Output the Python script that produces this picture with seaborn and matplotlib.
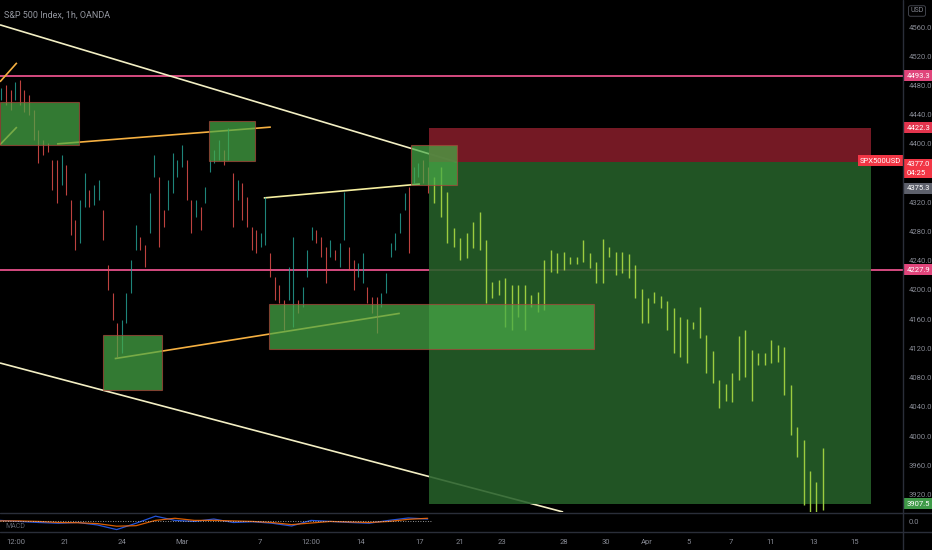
import numpy as np
import pandas as pd
import matplotlib
matplotlib.use("Agg")
import matplotlib.pyplot as plt
import matplotlib.transforms as mtransforms
from matplotlib.patches import Rectangle
from matplotlib.lines import Line2D
import seaborn as sns

sns.set_style("dark", {"axes.facecolor": "black", "figure.facecolor": "black"})
plt.rcParams['font.family'] = ['Roboto', 'DejaVu Sans']

# hourly candles before the trade (high / low, price)
hist_high = [4477, 4481, 4474, 4485, 4488, 4474, 4467, 4447, 4419, 4406, 4401, 4378, 4378, 4385, 4371,
             4323, 4296, 4323, 4360, 4337, 4344, 4351, 4310, 4234, 4196, 4155, 4159, 4196, 4241, 4289,
             4273, 4262, 4333, 4385, 4355, 4310, 4351, 4388, 4378, 4399, 4378, 4323, 4323, 4314, 4341,
             4378, 4392, 4406, 4392, 4422, 4360, 4351, 4347, 4327, 4286, 4282, 4278, 4327, 4251, 4218,
             4207, 4186, 4232, 4273, 4186, 4204, 4255, 4286, 4282, 4273, 4259, 4269, 4255, 4264, 4334,
             4259, 4241, 4237, 4251, 4204, 4190, 4190, 4196, 4223, 4264, 4278, 4306, 4333, 4341, 4369,
             4374, 4378, 4369]
hist_low = [4460, 4453, 4447, 4460, 4453, 4444, 4440, 4406, 4374, 4385, 4389, 4337, 4319, 4344, 4330,
            4275, 4255, 4264, 4314, 4314, 4316, 4323, 4269, 4200, 4159, 4108, 4114, 4155, 4196, 4255,
            4255, 4232, 4278, 4355, 4259, 4286, 4310, 4333, 4355, 4369, 4323, 4278, 4300, 4282, 4319,
            4362, 4374, 4378, 4371, 4378, 4286, 4323, 4296, 4286, 4255, 4251, 4259, 4262, 4218, 4186,
            4182, 4145, 4186, 4149, 4169, 4177, 4218, 4269, 4264, 4245, 4210, 4245, 4241, 4232, 4269,
            4227, 4200, 4218, 4210, 4182, 4169, 4141, 4177, 4196, 4245, 4255, 4278, 4310, 4251, 4347,
            4355, 4347, 4333]

# projected bars (high / low)
proj_high = [4355, 4368, 4334, 4285, 4271, 4278, 4293, 4307, 4269, 4211, 4214, 4216, 4207, 4207, 4207,
             4193, 4197, 4241, 4255, 4251, 4252, 4245, 4245, 4269, 4251, 4238, 4270, 4259, 4252, 4252,
             4249, 4234, 4201, 4189, 4197, 4192, 4185, 4175, 4163, 4160, 4156, 4177, 4138, 4116, 4077,
             4071, 4086, 4137, 4145, 4118, 4114, 4114, 4132, 4125, 4122, 4070, 4012, 3995, 3952, 3937,
             3984]
proj_low = [4319, 4300, 4264, 4259, 4241, 4244, 4258, 4255, 4182, 4189, 4193, 4149, 4145, 4163, 4145,
            4177, 4170, 4173, 4225, 4223, 4227, 4236, 4236, 4238, 4230, 4210, 4210, 4245, 4221, 4223,
            4216, 4189, 4155, 4155, 4182, 4175, 4145, 4114, 4108, 4100, 4147, 4134, 4086, 4073, 4038,
            4048, 4047, 4077, 4081, 4048, 4097, 4097, 4100, 4101, 4056, 4001, 3971, 3905, 3895, 3895,
            3899]

# trade levels
entry_price = 4375.3
stop_price = 4422.3
target_price = 3907.5
last_price = 4377.0
level_lines = [4493.3, 4227.9]

# zones: (start slot, end slot, low, high)
zones = [(0.0, 12.2, 4399, 4458), (32.3, 39.4, 4377, 4432), (15.9, 25.0, 4063, 4138),
         (41.5, 91.7, 4119, 4181), (63.4, 70.5, 4344, 4399)]
trade_span = (66.2, 134.4)

# trend lines: ((x0, x1), (p0, p1), colour)
trend_lines = [((0.0, 70.5), (4563, 4375), '#f3efc4'),
               ((0.0, 86.9), (4100, 3896), '#f3efc4'),
               ((8.8, 41.8), (4400, 4423), '#f5b041'),
               ((0.0, 2.6), (4485, 4511), '#f5b041'),
               ((0.0, 2.6), (4399, 4423), '#f5b041'),
               ((17.7, 61.7), (4106, 4168), '#f5b041'),
               ((40.7, 64.8), (4326, 4345), '#f7f0a0')]

# MACD pane
macd_vals = [1, 0, -1, -1.7, -1, -3.3, -7.7, -1.7, 5, 1, 0, 2.3, -1, -0.3, -1.7, -4.3, 1, 0, -1, -1.7, 1, 3.3, 2.3]
signal_vals = [0.5, 0.5, 0, -1, -1.2, -2, -4.5, -4, 1, 3, 1, 1, 0.5, 0, -1, -3, -1.5, 0, -0.5, -1, 0, 2, 3]

date_ticks = [2.5, 10.0, 18.8, 28.1, 40.1, 48.0, 55.6, 64.7, 71.0, 77.5, 87.0, 93.5, 99.8, 106.2,
              112.7, 119.0, 125.5, 131.9]
date_labels = ['12:00', '21', '24', 'Mar', '7', '12:00', '14', '17', '21', '23', '28', '30', 'Apr',
               '5', '7', '11', '13', '15']

grey = '#868993'
W, H = 932, 550
fig = plt.figure(figsize=(9.32, 5.5), dpi=100)
fig.patch.set_facecolor('black')
ax = fig.add_axes([0, 1 - 512 / H, 903 / W, 512 / H])
mx = fig.add_axes([0, 1 - 532 / H, 903 / W, 19 / H])
for a in (ax, mx):
    a.set_facecolor('black')
    for s in a.spines.values():
        s.set_visible(False)
    a.grid(False)

ax.set_xlim(0, 903 / 6.48)
ax.set_ylim(3896, 4597)

# level lines
for p in level_lines:
    ax.axhline(p, color='#e6508a', lw=1.3, zorder=1)

# trend lines
for xs, ps, c in trend_lines:
    ax.plot(xs, ps, color=c, lw=1.2, zorder=1.5, solid_capstyle='butt')

# historical candles
hx = np.linspace(0.2, 66.0, len(hist_high))
mid = (np.array(hist_high) + np.array(hist_low)) / 2
up = np.r_[True, mid[1:] >= mid[:-1]]
cols = np.where(up, '#26a69a', '#ef5350')
ax.vlines(hx, hist_low, hist_high, colors=cols, lw=0.8, alpha=0.8, zorder=2)

# risk / reward boxes
x0, x1 = trade_span
ax.add_patch(Rectangle((x0, entry_price), x1 - x0, stop_price - entry_price,
                       fc='#7b1b27', ec='none', alpha=0.95, zorder=2.5))
ax.add_patch(Rectangle((x0, target_price), x1 - x0, entry_price - target_price,
                       fc='#26602a', ec='none', alpha=0.88, zorder=2.5))

# projected bars
px = 67 + np.arange(len(proj_high))
ax.vlines(px, proj_low, proj_high, colors='#9ccc3f', lw=1.0, zorder=3)

# zones
for a0, a1, lo, hi in zones:
    ax.add_patch(Rectangle((a0, lo), a1 - a0, hi - lo, fc='#48aa48', ec='#a8453a',
                           lw=0.8, alpha=0.72, zorder=4))

# right price scale (4360.0 sits under the last-price tag, as in the reference)
ticks = np.arange(3920, 4561, 40)
ax.yaxis.tick_right()
ax.set_yticks(ticks)
ax.set_yticklabels(['' if t == 4360 else f'{t:.1f}' for t in ticks])
ax.tick_params(axis='y', length=0, pad=4, labelsize=5.5, colors=grey)
ax.set_xticks([])

trans = mtransforms.blended_transform_factory(ax.transAxes, ax.transData)

def tag(price, text, color, fg='white'):
    ax.text(1.004, price, text, transform=trans, ha='left', va='center', fontsize=5.5, color=fg,
            linespacing=1.5, bbox=dict(boxstyle='square,pad=0.3', fc=color, ec='none'),
            clip_on=False, zorder=10)

tag(level_lines[0], f'{level_lines[0]:.1f}', '#e0457b')
tag(stop_price, f'{stop_price:.1f}', '#e2344d')
tag(entry_price - 36, f'{entry_price:.1f}', '#5d606b')
tag(last_price - 11, f'{last_price:.1f}\n04:25', '#f23645')
tag(level_lines[1], f'{level_lines[1]:.1f}', '#e0457b')
tag(target_price, f'{target_price:.1f}', '#3f9a48')
ax.text(0.998, last_price, 'SPX500USD', transform=trans, ha='right', va='center', fontsize=5.5,
        color='white', bbox=dict(boxstyle='square,pad=0.3', fc='#f23645', ec='none'), zorder=10)

ax.text(0.004, 0.98, 'S&P 500 Index, 1h, OANDA', transform=ax.transAxes, ha='left', va='top',
        fontsize=6.5, color='#9598a1')
fig.text(917 / W, 1 - 11 / H, 'USD', ha='center', va='center', fontsize=5, color=grey,
         bbox=dict(boxstyle='round,pad=0.25', fc='black', ec='#4a4d57', lw=0.6))

# MACD pane
mx.set_xlim(ax.get_xlim())
mx.set_ylim(-10, 8)
macd_df = pd.DataFrame({'slot': np.linspace(0, 66, len(macd_vals)), 'MACD': macd_vals,
                        'Signal': signal_vals})
sns.lineplot(data=macd_df, x='slot', y='MACD', ax=mx, color='#2962ff', lw=0.9, alpha=0.85)
sns.lineplot(data=macd_df, x='slot', y='Signal', ax=mx, color='#ff6d00', lw=0.9, alpha=0.85)
mx.axhline(0, color='#c9c9c9', lw=0.6, ls=(0, (1, 2)), xmax=66.5 / (903 / 6.48))
mx.set_xlabel('')
mx.set_ylabel('')
mx.yaxis.tick_right()
mx.set_yticks([0])
mx.set_yticklabels(['0.0'])
mx.tick_params(axis='y', length=0, pad=4, labelsize=5.5, colors=grey)
mx.set_xticks(date_ticks)
mx.set_xticklabels(date_labels)
mx.tick_params(axis='x', length=0, pad=5, labelsize=5.5, colors=grey)
mx.text(0.006, 0.3, 'MACD', transform=mx.transAxes, fontsize=5, color='#5d606b', va='center')

# panel separators
sep = '#2a2e39'
fig.add_artist(Line2D([0, 1], [1 - 513 / H] * 2, color=sep, lw=1))
fig.add_artist(Line2D([0, 1], [1 - 532 / H] * 2, color=sep, lw=1))
fig.add_artist(Line2D([903 / W] * 2, [0, 1], color=sep, lw=1))

fig.savefig('out.png', dpi=100, facecolor='black')
